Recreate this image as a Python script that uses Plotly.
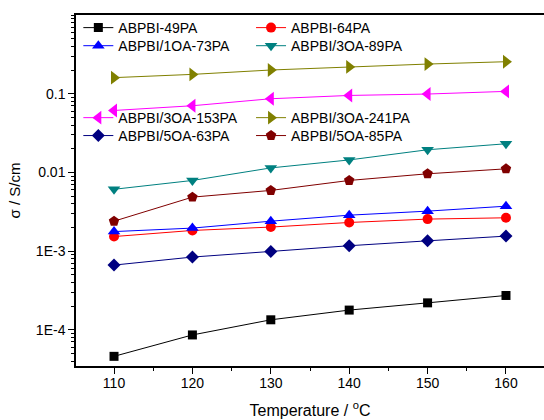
import plotly.graph_objects as go

temperature = [110, 120, 130, 140, 150, 160]

names = ["ABPBI-49PA", "ABPBI-64PA", "ABPBI/1OA-73PA", "ABPBI/3OA-89PA",
         "ABPBI/3OA-153PA", "ABPBI/3OA-241PA", "ABPBI/5OA-63PA", "ABPBI/5OA-85PA"]

s_49pa = [4.6e-5, 8.6e-5, 1.34e-4, 1.78e-4, 2.2e-4, 2.73e-4]
s_64pa = [1.53e-3, 1.83e-3, 2.02e-3, 2.31e-3, 2.55e-3, 2.65e-3]
s_1oa73 = [1.77e-3, 1.96e-3, 2.4e-3, 2.86e-3, 3.22e-3, 3.72e-3]
s_3oa89 = [6.1e-3, 7.9e-3, 0.0114, 0.0144, 0.0194, 0.0231]
s_3oa153 = [0.0612, 0.0703, 0.0863, 0.095, 0.099, 0.107]
s_3oa241 = [0.16, 0.176, 0.2, 0.219, 0.238, 0.255]
s_5oa63 = [6.64e-4, 8.4e-4, 9.9e-4, 1.17e-3, 1.35e-3, 1.55e-3]
s_5oa85 = [2.4e-3, 4.85e-3, 5.9e-3, 7.9e-3, 9.6e-3, 0.0111]

values = [s_49pa, s_64pa, s_1oa73, s_3oa89, s_3oa153, s_3oa241, s_5oa63, s_5oa85]
colors = ["#000000", "#FF0000", "#0000FF", "#008080",
          "#FF00FF", "#808000", "#000080", "#800000"]
symbols = ["square", "circle", "triangle-up", "triangle-down",
           "triangle-left", "triangle-right", "diamond", "pentagon"]
sizes = [9, 10, 11, 11, 12, 12, 10, 11]

y_tickvals = [1e-4, 1e-3, 1e-2, 1e-1]
y_ticktext = ["1E-4", "1E-3", "0.01", "0.1"]

# legend placement: one legend box per entry (2 columns x 4 rows)
leg_x = [0.005, 0.374, 0.005, 0.374, 0.005, 0.374, 0.005, 0.374]
leg_y = [1.0085, 1.0085, 0.957, 0.957, 0.752, 0.752, 0.701, 0.701]
leg_ids = ["legend"] + ["legend%d" % i for i in range(2, 9)]

fig = go.Figure()
for n, v, c, s, sz, lg in zip(names, values, colors, symbols, sizes, leg_ids):
    fig.add_trace(go.Scatter(
        x=temperature, y=v, name=n, mode="lines+markers",
        line=dict(color=c, width=1),
        marker=dict(symbol=s, size=sz, color=c, line=dict(width=0)),
        legend=lg,
    ))

font = dict(family="Liberation Sans, Arial, sans-serif", size=14, color="black")
leg_common = dict(bgcolor="rgba(0,0,0,0)", borderwidth=0, font=font,
                  xanchor="left", yanchor="top", tracegroupgap=0,
                  itemsizing="trace")
legends = {lg: dict(x=lx, y=ly, **leg_common) for lg, lx, ly in zip(leg_ids, leg_x, leg_y)}

fig.update_layout(
    width=544, height=420,
    margin=dict(l=76, r=0, t=15, b=54),
    paper_bgcolor="white", plot_bgcolor="white",
    font=font,
    showlegend=True,
    xaxis=dict(
        range=[105.15, 164.85], tickmode="linear", tick0=110, dtick=10,
        ticks="outside", ticklen=6, tickwidth=1, tickcolor="black",
        showline=True, linecolor="black", linewidth=1.5, mirror=True,
        showgrid=False, zeroline=False,
        tickfont=dict(size=14), ticklabelstandoff=-3,
        minor=dict(dtick=5, ticks="outside", ticklen=3, tickwidth=1,
                   tickcolor="black", showgrid=False),
        title=dict(text="Temperature / <sup>o</sup>C", font=dict(size=16), standoff=15),
        automargin=False,
    ),
    yaxis=dict(
        type="log", range=[-4.46, 0],
        tickmode="array", tickvals=y_tickvals, ticktext=y_ticktext,
        ticks="outside", ticklen=6, tickwidth=1, tickcolor="black",
        showline=True, linecolor="black", linewidth=1.5,
        showgrid=False, zeroline=False,
        tickfont=dict(size=14),
        minor=dict(dtick="D1", ticks="outside", ticklen=3, tickcolor="black", showgrid=False),
        title=dict(text="σ / S/cm", font=dict(size=15), standoff=12),
        automargin=False,
    ),
    **legends,
)

fig.write_html("out.html", config={"displayModeBar": False},
               post_script="document.body.style.margin='0px';")
